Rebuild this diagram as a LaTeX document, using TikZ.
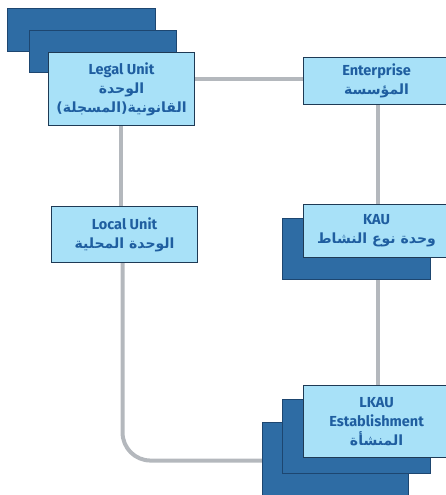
\documentclass[tikz,border=0pt]{standalone}
\usepackage{fontspec}
\setmainfont{Fira Sans}
\newfontfamily\ar[Script=Arabic,Scale=0.97]{DejaVu Sans}
\TeXXeTstate=1
\usetikzlibrary{backgrounds}
\definecolor{frontfill}{HTML}{A8E1F8}
\definecolor{frontline}{HTML}{1E3A55}
\definecolor{backfill}{HTML}{2E6CA4}
\definecolor{backline}{HTML}{1D4670}
\definecolor{textblue}{HTML}{1F5EA0}
\definecolor{conncol}{HTML}{B4B8BD}
\tikzset{
  front/.style={draw=frontline, fill=frontfill, line width=1.1pt, inner sep=0pt,
    anchor=north west, align=center, text=textblue,
    font=\bfseries\fontsize{14.5}{19}\selectfont},
  back/.style={draw=backline, fill=backfill, line width=1.1pt, inner sep=0pt, anchor=north west},
  conn/.style={draw=conncol, line width=4pt}
}
\begin{document}
\begin{tikzpicture}[x=1pt,y=-1pt]
\useasboundingbox (0,0) rectangle (446,495);
\clip (0,0) rectangle (446,495);
% Legal unit stack
\node[back, minimum width=148pt, minimum height=43pt] (legalb1) at (7,8) {};
\node[back, minimum width=147pt, minimum height=42pt] (legalb2) at (29,30) {};
\node[front, minimum width=146pt, minimum height=73pt] (legal) at (48,52)
  {Legal Unit\\ \ar الوحدة\\ \hbox{\ar (المسجلة)}\hbox{\ar القانونية}};
% Enterprise
\node[front, minimum width=146pt, minimum height=47pt] (ent) at (303,57)
  {Enterprise\\ \ar المؤسسة};
% Local unit
\node[front, minimum width=146pt, minimum height=56pt] (local) at (51,206)
  {Local Unit\\ {\ar\beginR الوحدة المحلية\endR}};
% KAU
\node[back, minimum width=148pt, minimum height=61pt] (kaub) at (282,218) {};
\node[front, minimum width=146pt, minimum height=53pt] (kau) at (303,204)
  {KAU\\ {\ar\beginR وحدة نوع النشاط\endR}};
% LKAU
\node[back, minimum width=146pt, minimum height=80pt] (lkaub2) at (262,422) {};
\node[back, minimum width=148pt, minimum height=74pt] (lkaub1) at (282,399) {};
\node[front, minimum width=146pt, minimum height=72pt] (lkau) at (303,385)
  {LKAU\\ Establishment\\ \ar المنشأة};
% connectors
\begin{scope}[on background layer]
\draw[conn] ([yshift=10pt]legal.east) coordinate (c1) -- (c1 -| ent.west);
\draw[conn] ([xshift=-1pt]legal.south) -- ([xshift=-1pt]legal.south |- local.north);
\draw[conn] ([xshift=1.5pt]ent.south) -- ([xshift=1.5pt]ent.south |- kau.north);
\draw[conn] ([xshift=1.5pt]kau.south) -- ([xshift=1.5pt]kau.south |- lkau.north);
\draw[conn, rounded corners=28pt] ([xshift=-2pt]local.south) |- ([yshift=-39pt]lkau.west);
\end{scope}
\end{tikzpicture}
\end{document}
